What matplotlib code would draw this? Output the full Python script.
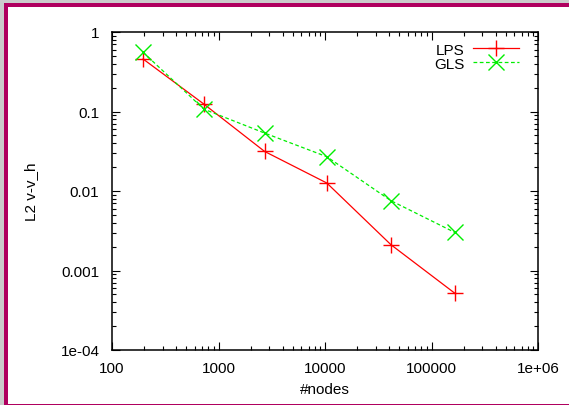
import matplotlib
matplotlib.use("Agg")
import matplotlib.pyplot as plt
from matplotlib.patches import Rectangle
from matplotlib.ticker import LogLocator, NullFormatter

plt.rcParams['font.family'] = ['Liberation Sans', 'DejaVu Sans']

nodes = [196, 729, 2704, 10404, 41616, 164836]
lps = [0.457, 0.124, 0.0315, 0.0126, 0.00211, 0.00052]
gls = [0.555, 0.107, 0.0536, 0.027, 0.00755, 0.00302]

xticks = [100, 1000, 10000, 100000, 1e6]
xlabels = ["100", "1000", "10000", "100000", "1e+06"]
yticks = [1e-4, 1e-3, 1e-2, 1e-1, 1]
ylabels = ["1e-04", "0.001", "0.01", "0.1", "1"]

W, H = 569, 406
fig = plt.figure(figsize=(W / 100, H / 100), dpi=100)
fig.patch.set_facecolor("#cccccc")

# frame around the plot, like a slide panel
fig.patches.append(Rectangle((4 / W, 0), 1, 402 / H, transform=fig.transFigure,
                             facecolor="#b0005f", edgecolor="none", zorder=-10))
fig.patches.append(Rectangle((8 / W, 1 / H), 1, 397 / H, transform=fig.transFigure,
                             facecolor="white", edgecolor="none", zorder=-9))

ax = fig.add_axes([112 / W, 1 - 351 / H, (538 - 112) / W, (351 - 33) / H])
ax.set_facecolor("none")

ax.plot(nodes, lps, color="#ff0000", lw=0.9, marker="+", ms=11, mew=1.0, label="LPS")
ax.plot(nodes, gls, color="#00ee00", lw=0.9, ls=(0, (3, 2)), marker="x", ms=11,
        mew=1.0, label="GLS")

ax.set_xscale("log")
ax.set_yscale("log")
ax.set_xlim(100, 1e6)
ax.set_ylim(1e-4, 1)
ax.set_xticks(xticks, xlabels)
ax.set_yticks(yticks, ylabels)
ax.xaxis.set_minor_locator(LogLocator(base=10, subs=range(2, 10), numticks=20))
ax.yaxis.set_minor_locator(LogLocator(base=10, subs=range(2, 10), numticks=20))
ax.xaxis.set_minor_formatter(NullFormatter())
ax.yaxis.set_minor_formatter(NullFormatter())

ax.tick_params(which="both", direction="in", top=True, right=True, labelsize=11,
               colors="black", width=0.8)
ax.tick_params(which="major", length=6)
ax.tick_params(axis="x", which="major", pad=8)
ax.tick_params(axis="y", which="major", pad=9)
ax.tick_params(which="minor", length=3)
for s in ax.spines.values():
    s.set_linewidth(1.1)

ax.set_xlabel("#nodes", fontsize=11, labelpad=5)
ax.set_ylabel("L2 v-v_h", fontsize=11, labelpad=16)

ax.legend(loc="upper right", bbox_to_anchor=(1 - 8 / 426, 1.0), frameon=False,
          markerfirst=False, fontsize=11, handlelength=3.0, borderaxespad=0.3,
          labelspacing=0.0, handletextpad=0.6)

fig.savefig("out.png", dpi=100, facecolor=fig.get_facecolor())
